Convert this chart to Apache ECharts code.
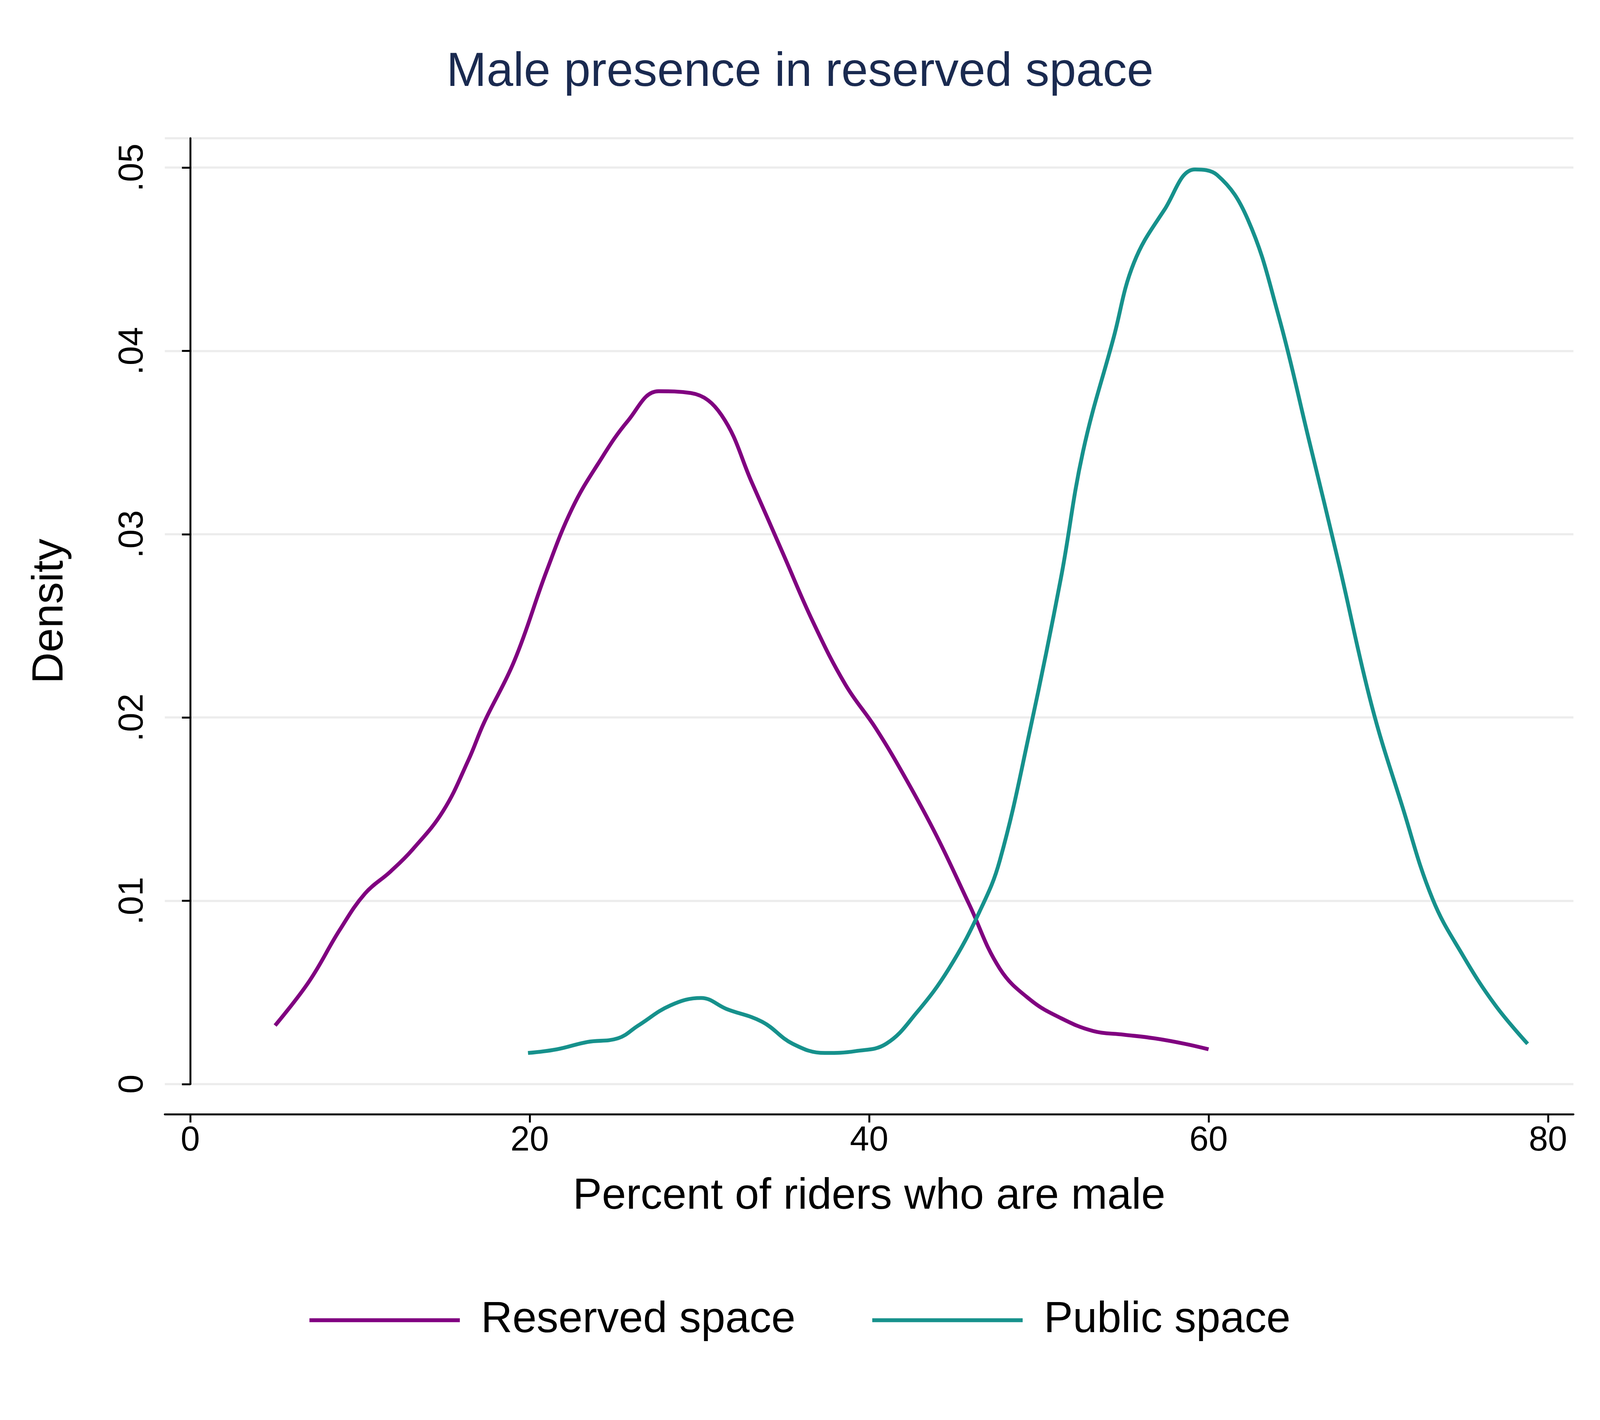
<!DOCTYPE html>
<html>
<head>
<meta charset="utf-8">
<script src="https://cdn.jsdelivr.net/npm/echarts@6/dist/echarts.min.js"></script>
<style>html,body{margin:0;padding:0;background:#fff;overflow:hidden}#chart{width:100vw;height:100vh}</style>
</head>
<body>
<div id="chart"></div>
<script>
var reservedX = [5.0,7.0,8.8,10.3,11.8,13.1,14.9,16.4,17.3,19.1,21.0,22.5,24.0,25.8,27.6,29.5,31.3,33.1,34.9,36.7,38.6,40.4,42.2,44.0,45.9,47.7,49.5,51.3,53.2,55.0,56.8,58.6,60.0];
var reservedY = [.0032,.0056,.0084,.0104,.0116,.0128,.0149,.0177,.0197,.0231,.0280,.0314,.0338,.0362,.0378,.0377,.0365,.0328,.0290,.0252,.0218,.0194,.0166,.0135,.0098,.0063,.0046,.0036,.0029,.0027,.0025,.0022,.0019];
var publicX = [19.9,21.6,23.4,25.2,26.4,28.3,30.1,31.6,33.7,35.5,37.4,39.2,41.0,42.8,44.7,46.5,47.7,49.5,51.3,52.6,54.4,55.6,57.4,59.2,60.5,62.3,64.1,65.9,67.7,69.6,71.4,73.2,75.0,76.9,78.8];
var publicY = [.0017,.0019,.0023,.0025,.0032,.0043,.0047,.0041,.0034,.0022,.0017,.0018,.0022,.0039,.0063,.0094,.0122,.0194,.0276,.0345,.0407,.0448,.0477,.0499,.0496,.0472,.0420,.0352,.0283,.0207,.0152,.0101,.0070,.0043,.0022];
var xTicks = [0,20,40,60,80];

function pairs(xs, ys){
    var out = [];
    for(var i = 0;i<xs.length;i++){ out.push([xs[i], ys[i]]); }
    return out;
}

var font = 'Liberation Sans, Arial, sans-serif';
var myChart = echarts.init(document.getElementById('chart'));
// everything was measured on a 5000x3636 canvas; scale to the actual size
var W = myChart.getWidth(), H = myChart.getHeight();
var sx = W / 5000, sy = H / 3636, s = Math.min(sx, sy);

var option = {
    backgroundColor: '#fff',
    animation: false,
    title: {
        text: 'Male presence in reserved space',
        left: 'center', top: 120*sy,
        textStyle: {color: '#1a2a50', fontSize: 150*s, fontWeight: 'normal', fontFamily: font}
    },
    legend: {
        bottom: 195*sy, left: 'center', itemWidth: 470*s, itemHeight: 12*s, itemGap: 240*s,
        icon: 'rect',
        textStyle: {fontSize: 136*s, fontFamily: font, color: '#000', padding: [0,0,0,60*s]},
        data: ['Reserved space','Public space']
    },
    grid: {left: 515*sx, right: 83*sx, top: 354*sy, bottom: 860*sy},
    xAxis: {
        type: 'value', min: -1.5, max: 81.5,
        offset: 77*sy,
        name: 'Percent of riders who are male', nameLocation: 'middle', nameGap: 190*s,
        nameTextStyle: {fontSize: 136*s, fontFamily: font, color: '#000'},
        axisLine: {show: true, onZero: false, lineStyle: {color: '#000', width: 6*s}},
        axisTick: {show: true, length: 26*s, customValues: xTicks, lineStyle: {color: '#000', width: 6*s}},
        axisLabel: {customValues: xTicks, fontSize: 108*s, fontFamily: font, color: '#000', margin: 30*s},
        splitLine: {show: false}
    },
    yAxis: {
        type: 'value', min: 0, max: 0.0516, interval: 0.01,
        name: 'Density', nameLocation: 'middle', nameGap: 290*s, nameRotate: 90,
        nameTextStyle: {fontSize: 136*s, fontFamily: font, color: '#000'},
        axisLine: {show: true, lineStyle: {color: '#000', width: 6*s}},
        axisTick: {show: true, length: 26*s, lineStyle: {color: '#000', width: 6*s}},
        axisLabel: {
            rotate: 90, fontSize: 108*s, fontFamily: font, color: '#000', margin: 45*s,
            formatter: function(v){ return v === 0 ? '0' : '.0' + Math.round(v*100); }
        },
        splitLine: {show: true, lineStyle: {color: '#ececec', width: 7*s}}
    },
    series: [
        {name: 'Reserved space', type: 'line', smooth: 0.4, symbol: 'none',
         lineStyle: {color: '#800080', width: 12*s}, itemStyle: {color: '#800080'},
         data: pairs(reservedX, reservedY)},
        {name: 'Public space', type: 'line', smooth: 0.4, symbol: 'none',
         lineStyle: {color: '#16918c', width: 12*s}, itemStyle: {color: '#16918c'},
         data: pairs(publicX, publicY)}
    ]
};
myChart.setOption(option);
</script>
</body>
</html>
